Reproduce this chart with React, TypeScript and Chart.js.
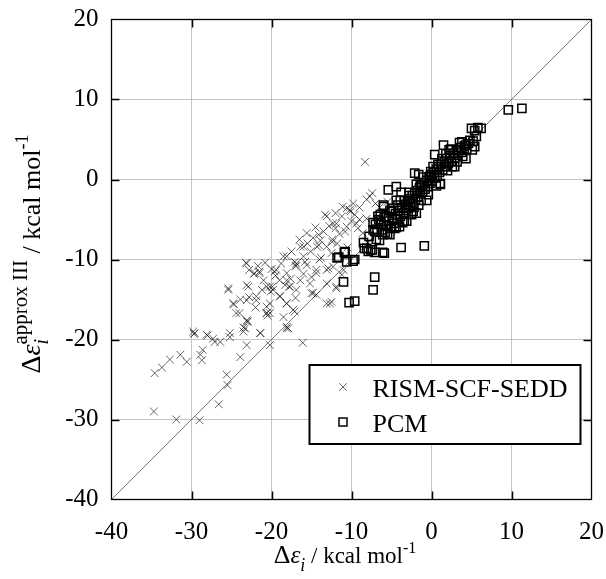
import React, { useEffect, useRef } from 'react';
import { Chart, registerables } from 'chart.js';

Chart.register(...registerables);

const FONT = '"Liberation Serif", "Times New Roman", Times, serif';

const axisMin = -40;
const axisMax = 20;
const tickStep = 10;
const innerTickValues = [-30, -20, -10, 0, 10];

const legendLabels = ['RISM-SCF-SEDD', 'PCM'];

const diagX = [-40, 20];
const diagY = [-40, 20];

const rismX = [
  -34.6, -33.7, -32.7, -31.4, -30.6, -28.9, -28.7, -28.6, -29.8, -29.6,
  -28.1, -27.3, -27.1, -26.4, -25.2, -23.1, -23.9, -25.6, -25.5, -26.6,
  -34.7, -31.9, -29.0, -20.2, -21.4, -23.5, -23.5, -23.1, -23.0, -24.4,
  -24.8, -25.4, -23.1, -23.9, -22.1, -20.6, -20.5, -18.1, -17.1, -18.9,
  -19.8, -18.3, -17.6, -21.9, -21.2, -20.6, -13.1, -15.6, -13.9, -14.1,
  -16.0, -18.5, -16.9, -17.0, -15.8, -12.9, -23.1, -22.2, -21.7, -21.5,
  -25.4, -24.7, -23.1, -22.8, -22.9, -20.6, -20.1, -19.9, -18.1, -17.8,
  -18.1, -17.3, -20.2, -23.0, -23.3, -21.4, -25.2, -29.7, -28.0, -17.9,
  -13.1, -15.0, -14.4, -19.6, -20.0, -13.3, -10.6, -10.1, -11.2, -12.3,
  -12.0, -9.4, -8.1, -7.7, -7.4, -9.2, -14.8, -14.1, -16.4, -14.3,
  -13.1, -16.0, -15.1, -12.4, -18.1, -17.1, -16.9, -19.4, -18.1, -15.6,
  -14.4, -13.1, -21.5, -23.2, -22.8, -21.0, -20.2, -19.0, -17.7, -16.9,
  -16.4, -14.4, -15.2, -13.1, -11.9, -12.7, -24.0, -20.6, -20.2, -19.0,
  -18.1, -21.9, -18.1, -11.0, -11.2, -8.3, -8.1, -10.2, -9.6, -11.1,
  -11.9, -10.6, -9.0, -8.6, -8.0, -12.4, -16.1, -11.9, -12.5, -12.3,
  -14.8, -6.5, -6.0, -7.0, -5.5, -17.5, -16.5, -15.5, -14.5, -13.5,
  -12.8, -12.0, -11.5, -10.8, -10.0, -9.8, -9.0, -13.8, -12.5, -11.8,
  -18.8, -19.5, -16.0, -15.0, -17.0, -14.0, -10.5, -20.8, -18.5, -22.0,
];

const rismY = [
  -24.2, -23.5, -22.5, -21.9, -22.8, -21.9, -22.6, -21.3, -19.0, -19.2,
  -19.4, -19.9, -20.3, -20.3, -19.7, -20.7, -22.2, -24.4, -25.7, -28.1,
  -29.0, -30.0, -30.1, -20.7, -19.2, -19.0, -18.5, -17.6, -17.8, -16.7,
  -15.5, -13.8, -13.2, -15.0, -11.7, -16.7, -17.0, -18.6, -16.5, -14.6,
  -13.8, -13.2, -12.4, -14.6, -13.8, -15.9, -4.6, -6.7, -7.6, -8.2,
  -8.4, -9.6, -10.5, -10.8, -10.3, -11.1, -10.5, -11.8, -10.8, -11.7,
  -13.6, -15.6, -15.1, -14.7, -13.4, -13.4, -14.0, -13.4, -12.6, -13.4,
  -15.5, -16.3, -16.7, -17.7, -18.6, -19.2, -19.2, -19.3, -19.5, -18.6,
  -15.5, -14.2, -11.7, -11.5, -11.2, -4.4, -3.6, -4.0, -4.6, -5.5,
  -6.1, -5.5, -4.9, -2.1, -1.7, -6.1, -7.3, -6.9, -8.4, -8.4,
  -8.4, -9.6, -9.0, -7.8, -9.6, -10.3, -10.8, -11.3, -11.7, -10.7,
  -11.3, -11.3, -11.5, -10.4, -11.3, -12.6, -13.4, -12.6, -13.4, -13.8,
  -12.6, -14.4, -13.0, -13.0, -13.4, -15.5, -16.7, -16.7, -15.5, -14.6,
  -15.5, -15.1, -18.4, -11.3, -11.9, 2.2, -2.5, -3.8, -4.4, -3.4,
  -5.5, -5.9, -5.0, -6.7, -7.9, -7.5, -20.4, -13.6, -15.3, -10.9,
  -14.2, -3.5, -4.2, -3.0, -2.8, -9.0, -7.5, -8.0, -6.0, -6.5,
  -5.8, -4.2, -6.8, -6.5, -5.2, -3.0, -3.5, -9.8, -9.2, -8.0,
  -10.5, -12.0, -11.8, -12.2, -14.8, -10.0, -8.5, -10.4, -17.2, -16.0,
];

const pcmX = [
  9.6, 11.3, 5.0, 5.4, 5.8, 6.2, 5.6, 5.4, 1.5, 3.8,
  4.3, 2.2, 5.1, 0.4, 4.3, 2.9, -1.6, -2.1, -0.1, 1.1,
  -0.6, -4.4, -5.4, -3.8, -4.4, -6.0, -6.7, -7.3, -7.1, -6.2,
  -5.0, -4.0, -3.4, -2.3, -3.8, -0.9, -5.9, -6.5, -8.1, -7.4,
  -10.8, -10.6, -9.6, -11.6, -11.0, -7.1, -7.3, -10.3, -9.6, -6.1,
  -8.4, -7.6, -11.8, -10.9, -9.8, -7.3, -6.1, -5.2, -6.4, -6.0,
  -1.9, -3.1, 1.1, -7.9, -7.1,
  -5.6, -5.3, -5.1, -4.9, -4.7, -4.5, -4.3, -4.1, -3.9, -3.7,
  -3.5, -3.3, -3.2, -3.0, -2.9, -2.7, -2.6, -2.4, -2.3, -2.1,
  -2.0, -1.8, -1.7, -1.5, -1.4, -1.2, -1.1, -0.9, -0.8, -0.6,
  -0.5, -0.3, -0.2, 0.0, 0.1, 0.3, 0.4, 0.6, 0.7, 0.9,
  1.0, 1.2, 1.4, 1.6, 1.7, 1.9, 2.1, 2.3, 2.5, 2.7,
  2.9, 3.1, 3.3, 3.6, 3.8, 4.1, 4.4, -6.3, -5.9, -5.8,
  -4.4, -3.6, -2.5, -1.6, -0.4, 0.6, -4.8, -3.9, -2.8, -1.9,
  -1.0, 0.2, 1.3, 2.4, 3.2, 2.0, 4.8, 3.5, -6.8, -6.6,
  -5.2, -2.2, -1.3, 0.8, 1.8, 2.6, 3.9, 4.6, 5.2, -7.8,
  -8.5, -7.0, -6.4, -5.7, -5.0, -4.2, -3.4, -2.8, -1.4, -0.2,
  -6.9, -5.5, -4.6,
];

const pcmY = [
  8.7, 8.9, 6.4, 6.1, 6.5, 6.4, 5.4, 4.1, 4.3, 4.7,
  4.3, 3.7, 3.7, 3.1, 2.6, 1.6, 0.6, 0.8, 1.0, -0.5,
  -2.6, -0.9, -1.3, -1.6, -2.6, -3.4, -4.6, -5.4, -6.5, -6.3,
  -5.9, -5.9, -5.2, -4.0, -8.5, -8.3, -9.2, -7.6, -8.6, -8.8,
  -9.0, -10.3, -10.0, -9.7, -12.8, -12.2, -13.8, -15.4, -15.2, -9.1,
  -8.6, -8.8, -9.8, -9.1, -10.2, -6.3, -6.9, -6.9, -4.4, -3.2,
  -4.2, -5.2, -0.6, -9.0, -9.1,
  -5.8, -5.2, -6.1, -4.8, -5.5, -4.3, -5.0, -3.9, -4.6, -3.5,
  -4.2, -3.1, -3.9, -2.8, -3.6, -2.4, -3.2, -2.0, -2.8, -1.7,
  -2.5, -1.4, -2.2, -1.0, -1.8, -0.7, -1.5, -0.4, -1.2, -0.1,
  -0.9, 0.3, -0.5, 0.6, -0.2, 0.9, 0.2, 1.3, 0.5, 1.6,
  0.9, 1.9, 1.2, 2.3, 1.6, 2.6, 2.0, 3.0, 2.3, 3.3,
  2.7, 3.6, 3.0, 4.0, 3.4, 4.2, 3.8, -5.6, -4.7, -6.6,
  -6.0, -5.4, -4.4, -3.2, -1.9, -0.8, -3.6, -2.6, -1.6, -0.6,
  0.3, 1.6, 2.6, 3.8, 2.2, 1.1, 4.9, 4.6, -6.2, -5.0,
  -3.9, -3.5, -2.6, 1.9, 3.2, 1.6, 2.9, 4.5, 4.8, -7.1,
  -7.9, -5.6, -5.2, -4.6, -4.0, -3.2, -2.6, -2.0, -0.8, 0.4,
  -7.5, -6.8, -6.1,
];

type Seg = { t: string; size: number; italic?: boolean; dy?: number };
type Group = Seg[];

const xTitle: Group[] = [
  [{ t: 'Δ', size: 26 }],
  [{ t: 'ε', size: 25, italic: true }],
  [{ t: 'i', size: 18, italic: true, dy: 8 }],
  [{ t: ' / kcal mol', size: 23 }],
  [{ t: '-1', size: 16, dy: -10 }],
];

const yTitle: Group[] = [
  [{ t: 'Δ', size: 28 }],
  [{ t: 'ε', size: 28, italic: true }],
  [
    { t: 'i', size: 20, italic: true, dy: 8 },
    { t: 'approx III', size: 21, dy: -13 },
  ],
  [{ t: ' / kcal mol', size: 26 }],
  [{ t: '-1', size: 18, dy: -12 }],
];

function segFont(s: Seg) {
  return `${s.italic ? 'italic ' : ''}${s.size}px ${FONT}`;
}

function drawRich(
  ctx: CanvasRenderingContext2D,
  groups: Group[],
  px: number,
  py: number,
  rotate: boolean
) {
  const widths = groups.map((g) =>
    Math.max(
      ...g.map((s) => {
        ctx.font = segFont(s);
        return ctx.measureText(s.t).width;
      })
    )
  );
  const total = widths.reduce((a, b) => a + b, 0);
  ctx.save();
  ctx.translate(px, py);
  if (rotate) ctx.rotate(-Math.PI / 2);
  ctx.fillStyle = '#000';
  ctx.textBaseline = 'alphabetic';
  ctx.textAlign = 'left';
  let x = -total / 2;
  groups.forEach((g, i) => {
    g.forEach((s) => {
      ctx.font = segFont(s);
      ctx.fillText(s.t, x, s.dy || 0);
    });
    x += widths[i];
  });
  ctx.restore();
}

function drawCross(ctx: CanvasRenderingContext2D, x: number, y: number, h: number) {
  ctx.beginPath();
  ctx.moveTo(x - h, y - h);
  ctx.lineTo(x + h, y + h);
  ctx.moveTo(x - h, y + h);
  ctx.lineTo(x + h, y - h);
  ctx.stroke();
}

const framePlugin = {
  id: 'frameAndText',
  afterDraw(chart: any) {
    const ctx: CanvasRenderingContext2D = chart.ctx;
    const { left, right, top, bottom } = chart.chartArea;
    const xs = chart.scales.x;
    const ys = chart.scales.y;

    ctx.save();
    ctx.strokeStyle = '#000';
    ctx.lineWidth = 1.5;
    const tl = 8;
    ctx.beginPath();
    innerTickValues.forEach((v) => {
      const px = Math.round(xs.getPixelForValue(v)) + 0.5;
      ctx.moveTo(px, bottom);
      ctx.lineTo(px, bottom - tl);
      ctx.moveTo(px, top);
      ctx.lineTo(px, top + tl);
      const py = Math.round(ys.getPixelForValue(v)) + 0.5;
      ctx.moveTo(left, py);
      ctx.lineTo(left + tl, py);
      ctx.moveTo(right, py);
      ctx.lineTo(right - tl, py);
    });
    ctx.stroke();

    ctx.lineWidth = 1.3;
    ctx.strokeRect(left, top, right - left, bottom - top);

    const bx0 = right - 282;
    const by0 = bottom - 134.5;
    const bw = 271;
    const bh = 79;
    ctx.fillStyle = '#fff';
    ctx.fillRect(bx0, by0, bw, bh);
    ctx.lineWidth = 2;
    ctx.strokeStyle = '#000';
    ctx.strokeRect(bx0, by0, bw, bh);

    const mx = bx0 + 33.5;
    ctx.lineWidth = 1;
    ctx.strokeStyle = 'rgba(0,0,0,0.6)';
    drawCross(ctx, mx, by0 + 22, 3.8);
    ctx.strokeStyle = '#000';
    ctx.lineWidth = 1.5;
    ctx.strokeRect(mx - 4, by0 + 53, 8, 8);

    ctx.fillStyle = '#000';
    ctx.font = `26px ${FONT}`;
    ctx.textAlign = 'left';
    ctx.textBaseline = 'alphabetic';
    ctx.fillText(legendLabels[0], bx0 + 63, by0 + 32);
    ctx.fillText(legendLabels[1], bx0 + 63, by0 + 67);
    ctx.restore();

    drawRich(ctx, xTitle, 345, 563, false);
    drawRich(ctx, yTitle, 39.5, 254, true);
  },
};

export default function App() {
  const canvasRef = useRef<HTMLCanvasElement | null>(null);

  useEffect(() => {
    document.body.style.margin = '0';
    const canvas = canvasRef.current;
    if (!canvas) return;

    const toPts = (xs: number[], ys: number[]) => xs.map((x, i) => ({ x, y: ys[i] }));

    const tickFont = { family: FONT, size: 25 };
    const gridOpts = {
      display: true,
      color: '#c4c4c4',
      lineWidth: 1,
      drawTicks: false,
    };

    const chart = new Chart(canvas, {
      type: 'scatter',
      data: {
        datasets: [
          {
            label: legendLabels[1],
            data: toPts(pcmX, pcmY),
            pointStyle: 'rect',
            pointRadius: 5.8,
            pointBorderWidth: 1.5,
            borderColor: '#000',
            backgroundColor: 'rgba(0,0,0,0)',
            pointHoverRadius: 5.8,
          },
          {
            label: legendLabels[0],
            data: toPts(rismX, rismY),
            pointStyle: 'crossRot',
            pointRadius: 5.5,
            pointBorderWidth: 1,
            borderColor: 'rgba(0,0,0,0.6)',
            backgroundColor: 'rgba(0,0,0,0)',
            pointHoverRadius: 5.5,
          },
          {
            type: 'line',
            label: 'diag',
            data: toPts(diagX, diagY),
            borderColor: '#555',
            borderWidth: 0.8,
            pointRadius: 0,
            fill: false,
            tension: 0,
          },
        ] as any,
      },
      options: {
        animation: false,
        responsive: false,
        maintainAspectRatio: false,
        events: [],
        layout: { padding: { top: 19.5, right: 14.5, left: 0, bottom: 0 } },
        plugins: {
          legend: { display: false },
          tooltip: { enabled: false },
          title: { display: false },
        },
        scales: {
          x: {
            type: 'linear',
            min: axisMin,
            max: axisMax,
            grid: gridOpts,
            border: { display: false },
            ticks: {
              stepSize: tickStep,
              font: tickFont,
              color: '#000',
              padding: 18,
              maxRotation: 0,
              autoSkip: false,
            },
            afterFit: (s: any) => {
              s.height = 79.5;
              s.paddingLeft = 0;
              s.paddingRight = 0;
            },
          },
          y: {
            type: 'linear',
            min: axisMin,
            max: axisMax,
            grid: gridOpts,
            border: { display: false },
            ticks: {
              stepSize: tickStep,
              font: tickFont,
              color: '#000',
              padding: 13,
              autoSkip: false,
            },
            afterFit: (s: any) => {
              s.width = 111.5;
              s.paddingTop = 0;
              s.paddingBottom = 0;
            },
          },
        },
      },
      plugins: [framePlugin],
    });

    return () => chart.destroy();
  }, []);

  return (
    <div style={{ width: 606, height: 579 }}>
      <canvas ref={canvasRef} width={606} height={579} style={{ display: 'block' }} />
    </div>
  );
}
